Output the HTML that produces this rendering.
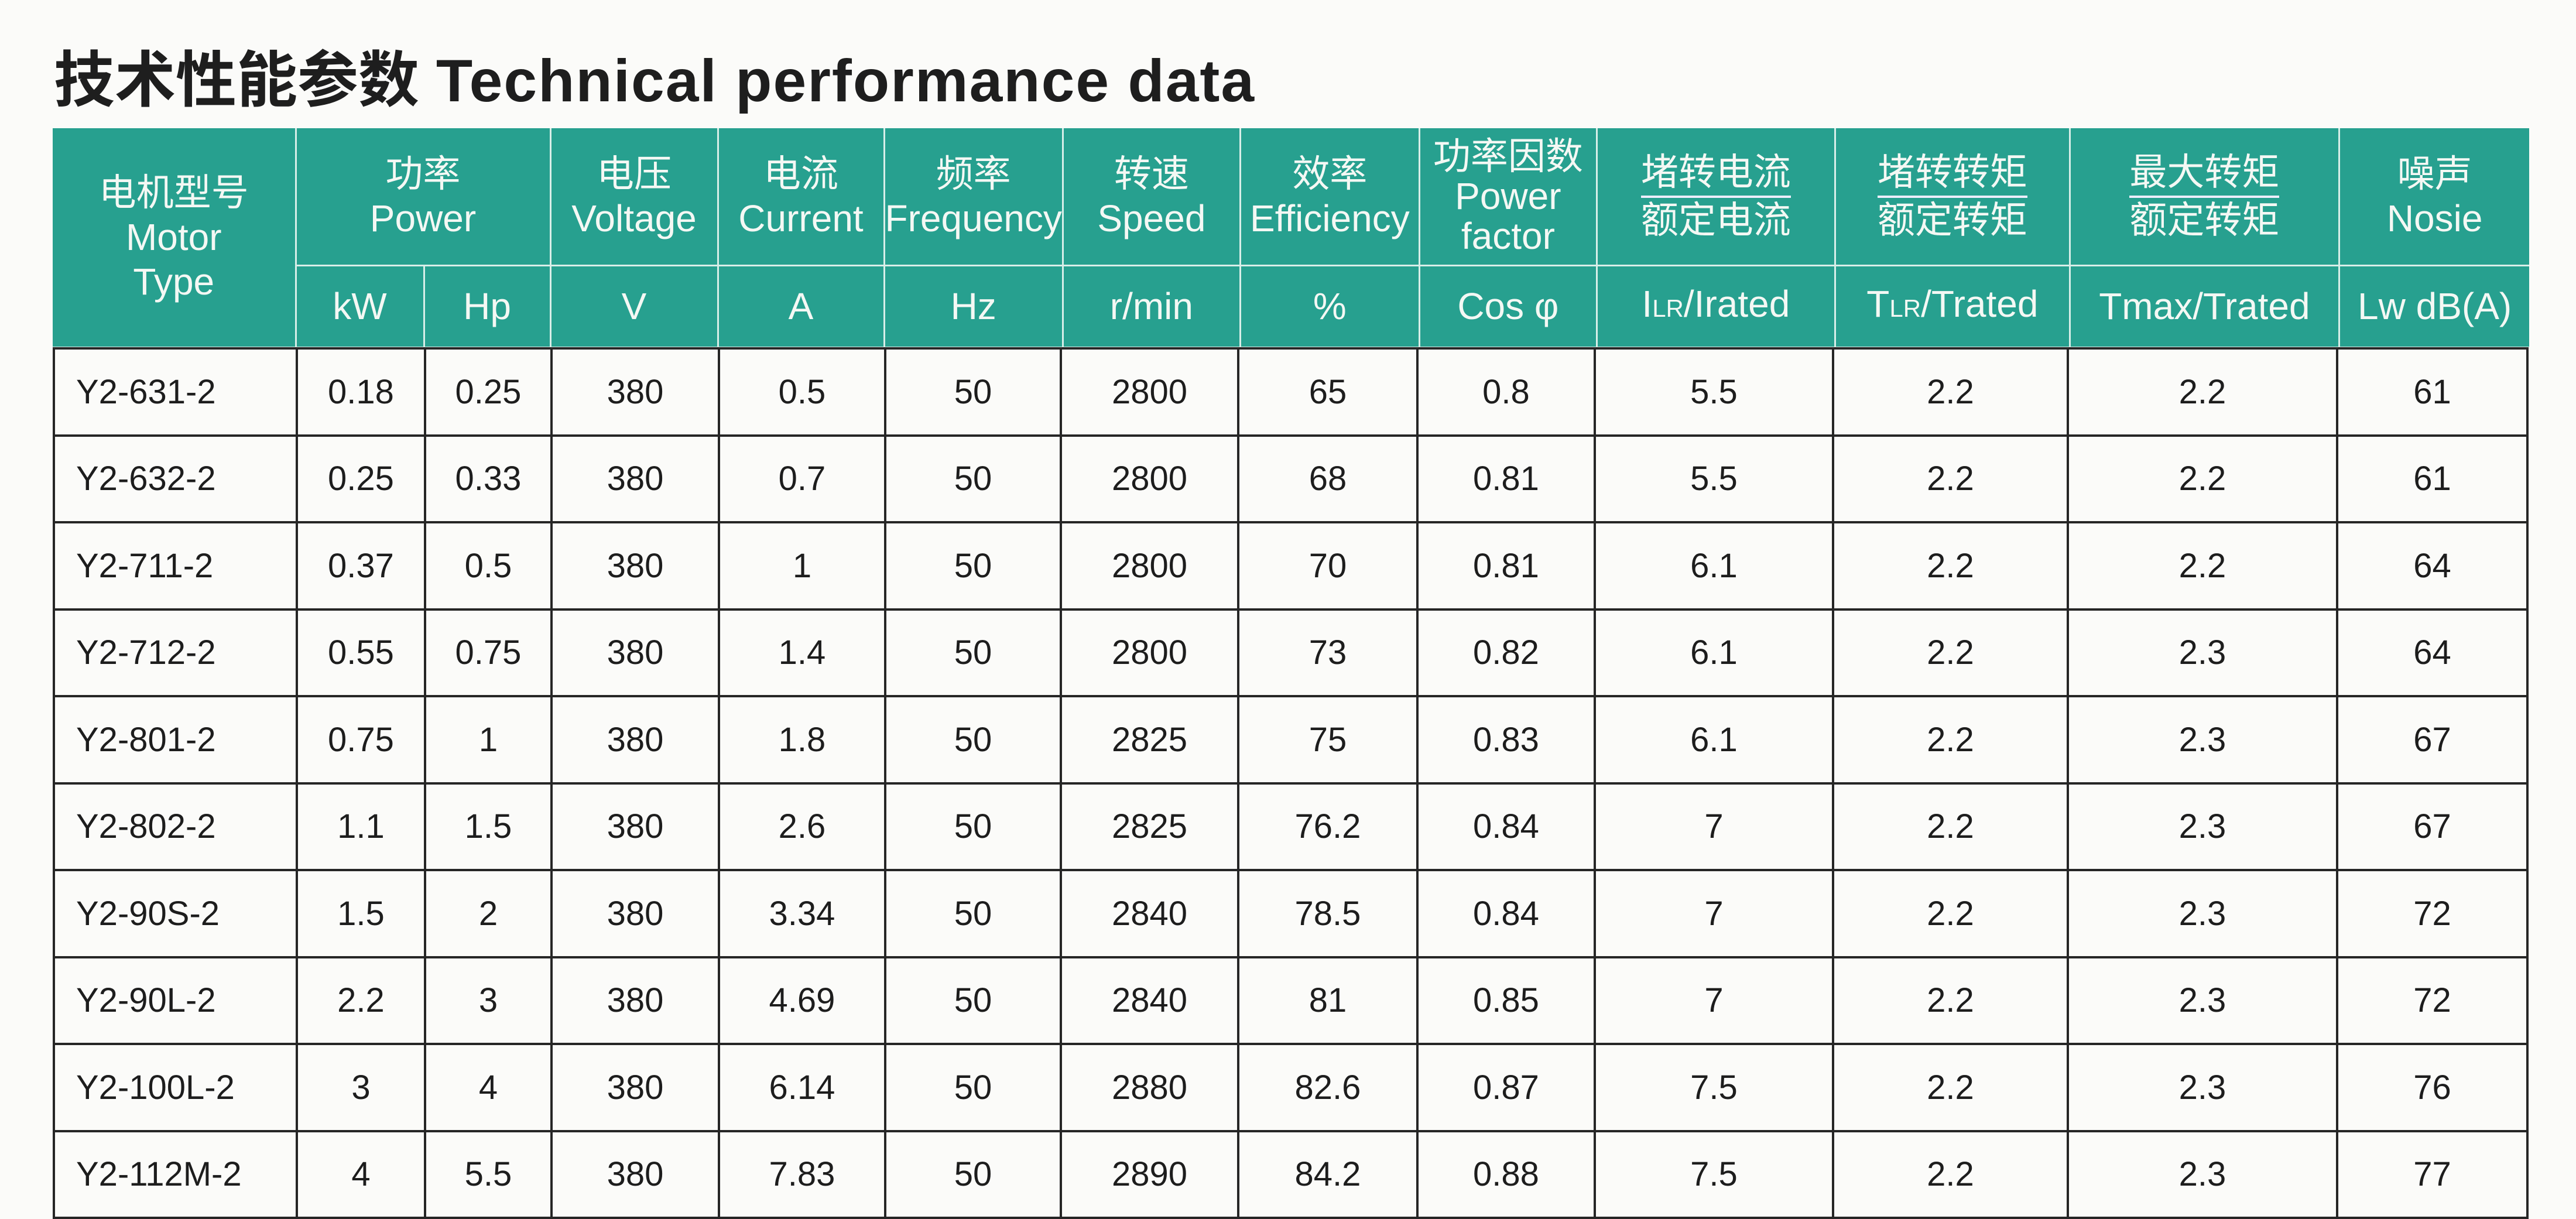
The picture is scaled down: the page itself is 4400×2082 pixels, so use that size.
<!DOCTYPE html>
<html><head><meta charset="utf-8"><style>
body{margin:0;width:4400px;height:2078px;background:#fbfbf9;position:relative;overflow:hidden;font-family:"Liberation Sans","Noto Sans CJK SC",sans-serif}
.title{position:absolute;left:92px;top:76px;font-size:104px;font-weight:bold;color:#1e1e1e;white-space:nowrap;line-height:124px}
.title .en{font-size:102px;letter-spacing:2px}
table{position:absolute;left:90px;border-collapse:collapse;table-layout:fixed}
.hd{top:219px;background:#27a08f;color:#f4f8f4}
.hd td{border:3px solid #d8eee8;text-align:center;vertical-align:middle;font-size:64px;line-height:76px;padding:0}
.hd tr:first-child td{border-top:none}
.hd td.f span.u{display:inline-block;border-bottom:4px solid #eef;padding-bottom:2px}
.bd{top:593px;color:#1d1d1d}
.bd td{border:4px solid #262626;text-align:center;vertical-align:middle;font-size:58px;height:144.5px;padding:0}
.bd td:first-child{text-align:left;padding-left:36px}
.sub{font-size:42px}
</style></head><body>
<div class="title">技术性能参数 <span class="en">Technical performance data</span></div>
<table class="hd">
<colgroup><col style="width:415px"><col style="width:219px"><col style="width:216px"><col style="width:286px"><col style="width:284px"><col style="width:300px"><col style="width:303px"><col style="width:306px"><col style="width:303px"><col style="width:407px"><col style="width:401px"><col style="width:460px"><col style="width:325px"></colgroup>
<tr style="height:234px">
<td rowspan="2" style="border-left:none">电机型号<br>Motor<br>Type</td>
<td colspan="2">功率<br>Power</td>
<td>电压<br>Voltage</td>
<td>电流<br>Current</td>
<td>频率<br>Frequency</td>
<td>转速<br>Speed</td>
<td>效率<br>Efficiency</td>
<td style="line-height:68px">功率因数<br>Power<br>factor</td>
<td class="f"><span class="u">堵转电流</span><br>额定电流</td>
<td class="f"><span class="u">堵转转矩</span><br>额定转矩</td>
<td class="f"><span class="u">最大转矩</span><br>额定转矩</td>
<td style="border-right:none">噪声<br>Nosie</td>
</tr>
<tr style="height:140px">
<td>kW</td><td>Hp</td><td>V</td><td>A</td><td>Hz</td><td>r/min</td><td>%</td><td>Cos φ</td>
<td>I<span class="sub">LR</span>/Irated</td><td>T<span class="sub">LR</span>/Trated</td><td>Tmax/Trated</td><td style="border-right:none">Lw dB(A)</td>
</tr>
</table>
<table class="bd">
<colgroup><col style="width:415px"><col style="width:219px"><col style="width:216px"><col style="width:286px"><col style="width:284px"><col style="width:300px"><col style="width:303px"><col style="width:306px"><col style="width:303px"><col style="width:407px"><col style="width:401px"><col style="width:460px"><col style="width:325px"></colgroup>
<tr><td>Y2-631-2</td><td>0.18</td><td>0.25</td><td>380</td><td>0.5</td><td>50</td><td>2800</td><td>65</td><td>0.8</td><td>5.5</td><td>2.2</td><td>2.2</td><td>61</td></tr>
<tr><td>Y2-632-2</td><td>0.25</td><td>0.33</td><td>380</td><td>0.7</td><td>50</td><td>2800</td><td>68</td><td>0.81</td><td>5.5</td><td>2.2</td><td>2.2</td><td>61</td></tr>
<tr><td>Y2-711-2</td><td>0.37</td><td>0.5</td><td>380</td><td>1</td><td>50</td><td>2800</td><td>70</td><td>0.81</td><td>6.1</td><td>2.2</td><td>2.2</td><td>64</td></tr>
<tr><td>Y2-712-2</td><td>0.55</td><td>0.75</td><td>380</td><td>1.4</td><td>50</td><td>2800</td><td>73</td><td>0.82</td><td>6.1</td><td>2.2</td><td>2.3</td><td>64</td></tr>
<tr><td>Y2-801-2</td><td>0.75</td><td>1</td><td>380</td><td>1.8</td><td>50</td><td>2825</td><td>75</td><td>0.83</td><td>6.1</td><td>2.2</td><td>2.3</td><td>67</td></tr>
<tr><td>Y2-802-2</td><td>1.1</td><td>1.5</td><td>380</td><td>2.6</td><td>50</td><td>2825</td><td>76.2</td><td>0.84</td><td>7</td><td>2.2</td><td>2.3</td><td>67</td></tr>
<tr><td>Y2-90S-2</td><td>1.5</td><td>2</td><td>380</td><td>3.34</td><td>50</td><td>2840</td><td>78.5</td><td>0.84</td><td>7</td><td>2.2</td><td>2.3</td><td>72</td></tr>
<tr><td>Y2-90L-2</td><td>2.2</td><td>3</td><td>380</td><td>4.69</td><td>50</td><td>2840</td><td>81</td><td>0.85</td><td>7</td><td>2.2</td><td>2.3</td><td>72</td></tr>
<tr><td>Y2-100L-2</td><td>3</td><td>4</td><td>380</td><td>6.14</td><td>50</td><td>2880</td><td>82.6</td><td>0.87</td><td>7.5</td><td>2.2</td><td>2.3</td><td>76</td></tr>
<tr><td>Y2-112M-2</td><td>4</td><td>5.5</td><td>380</td><td>7.83</td><td>50</td><td>2890</td><td>84.2</td><td>0.88</td><td>7.5</td><td>2.2</td><td>2.3</td><td>77</td></tr>
</table>
</body></html>
